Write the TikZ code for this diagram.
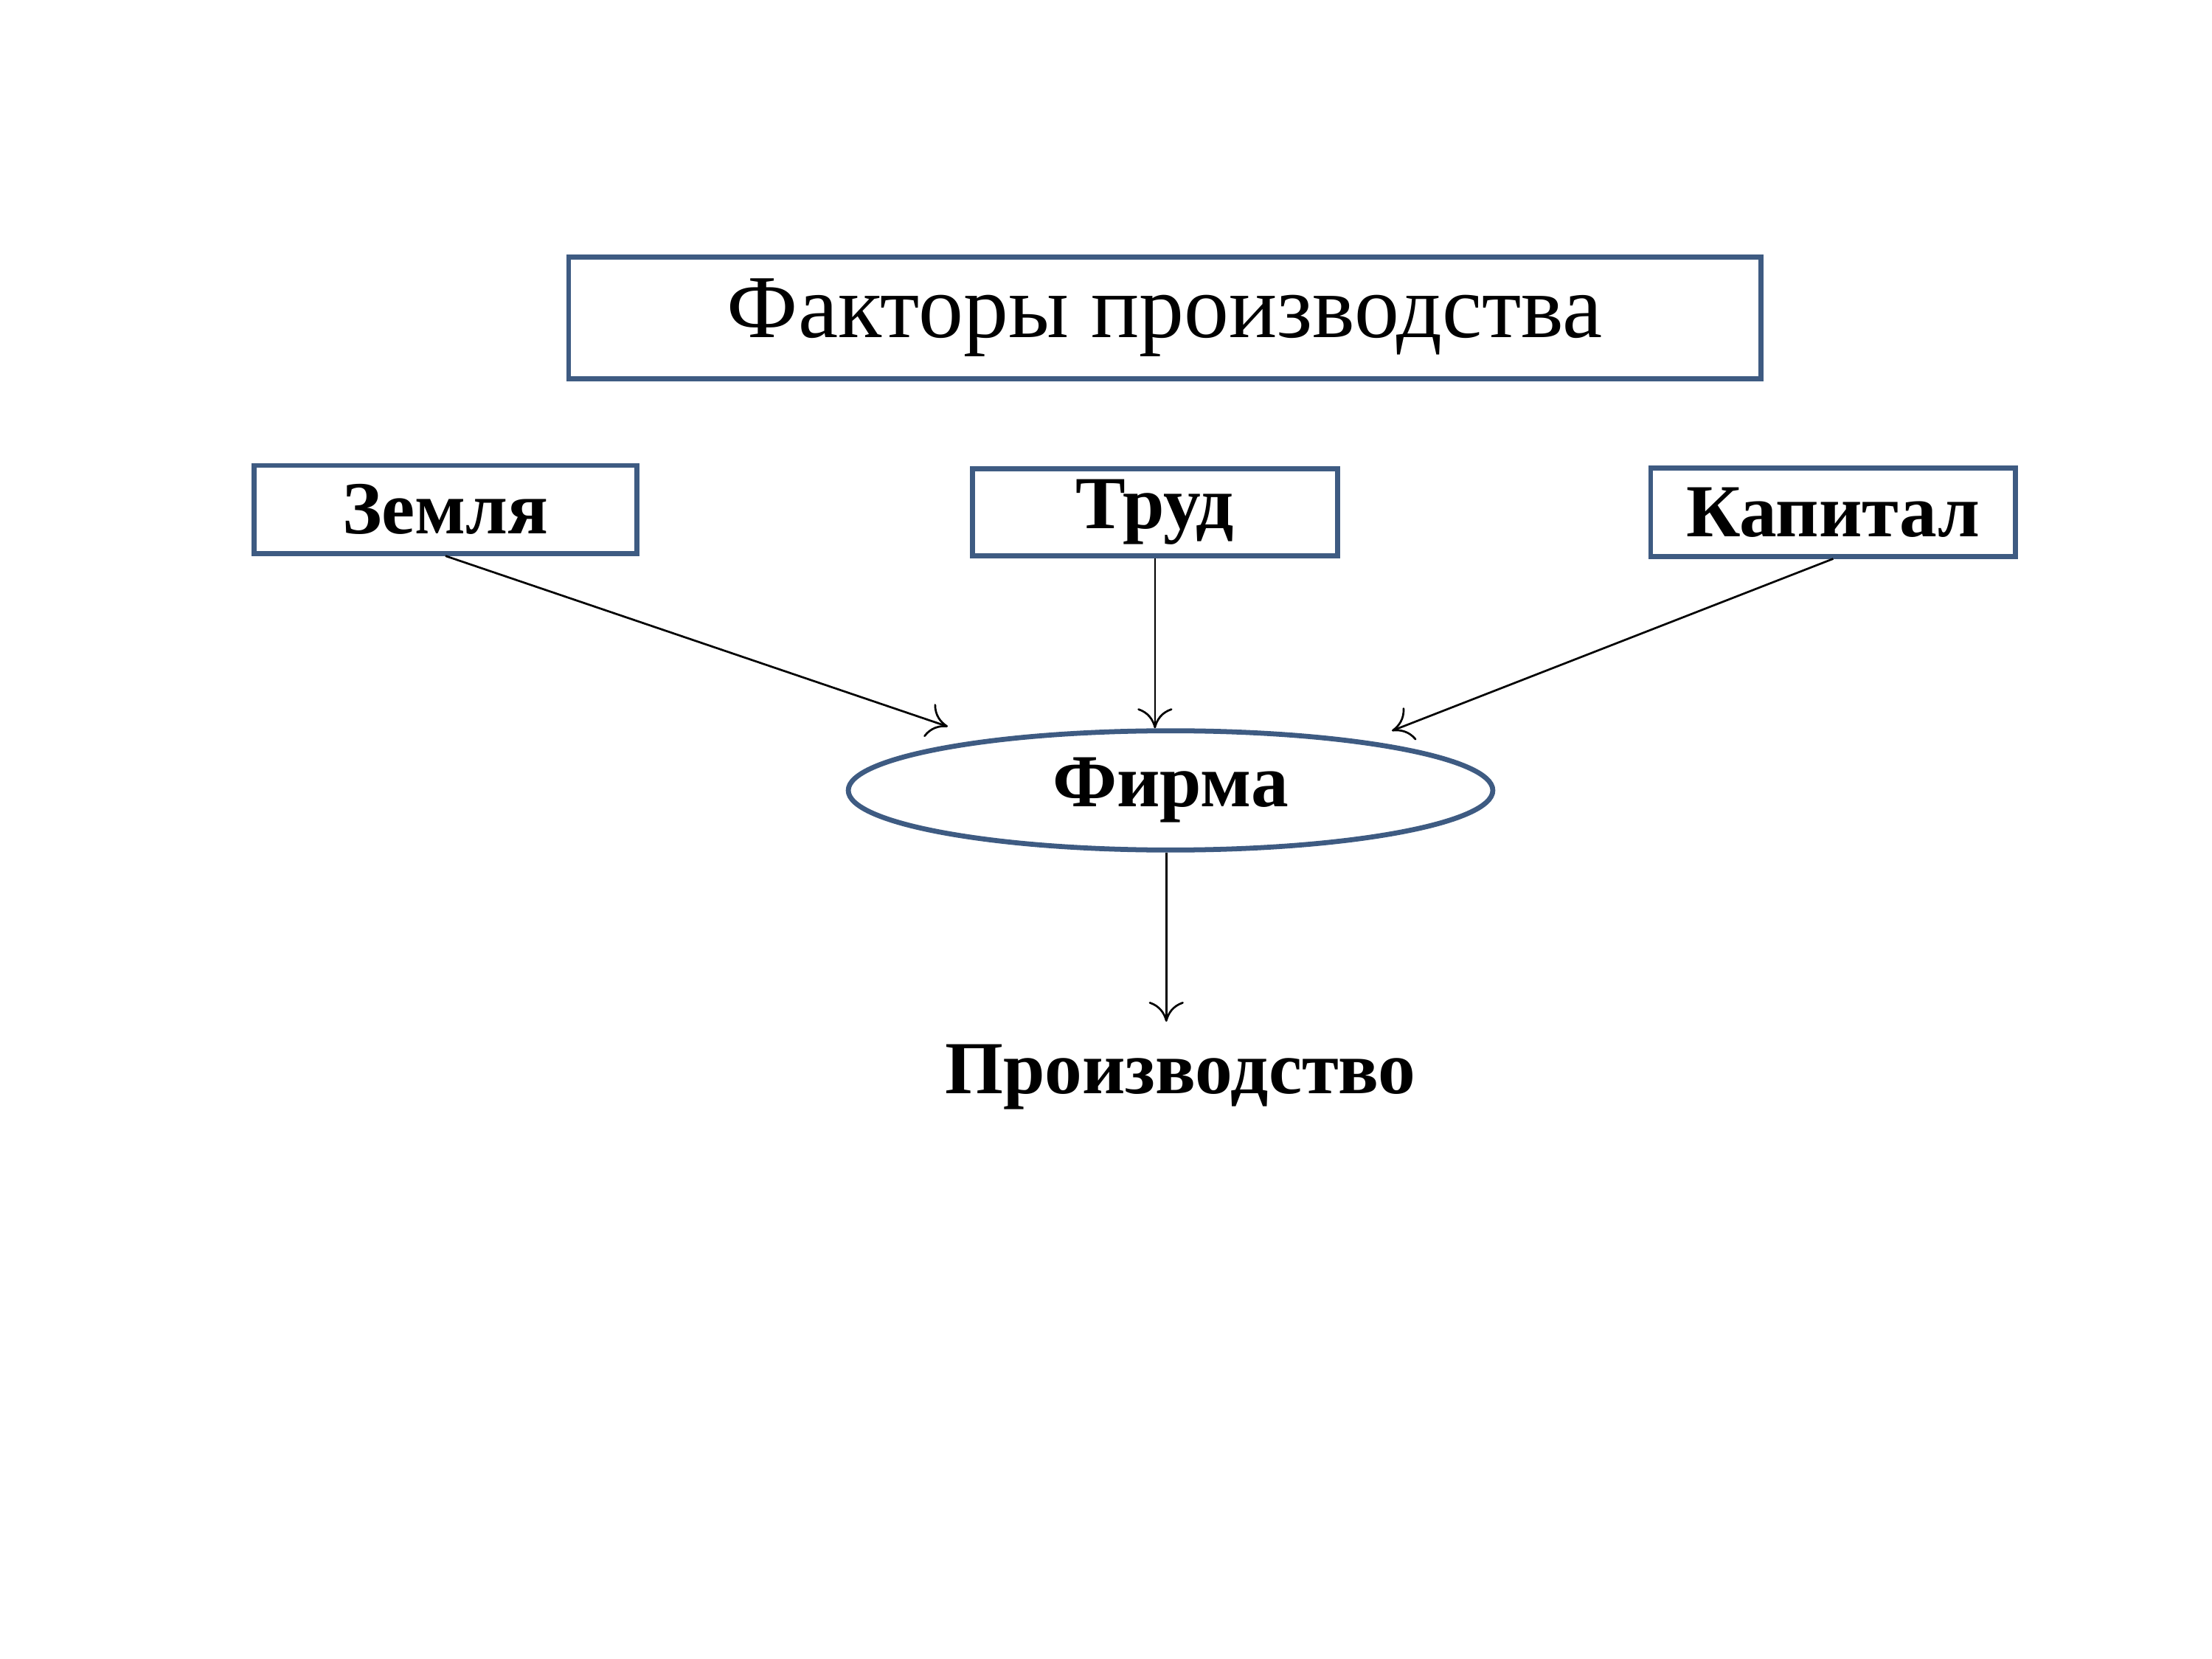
\documentclass[tikz,border=0pt]{standalone}
\usepackage{fontspec}
\setmainfont{Liberation Serif}
\usepackage{xcolor}
\usetikzlibrary{shapes.geometric, positioning, arrows.meta}
\definecolor{boxblue}{HTML}{3E5B82}

\begin{document}
\begin{tikzpicture}[x=0.01cm, y=-0.01cm,
    factor/.style={draw=boxblue, line width=1pt, inner sep=0pt, font=\fontsize{15}{18}\selectfont\bfseries},
    flow/.style={-{To[length=4pt,width=7pt]}, thin}]
  \useasboundingbox (0,0) rectangle (1559,1169);
  % title
  \node[draw=boxblue, line width=1pt, minimum width=8.4cm, minimum height=0.86cm,
        font=\fontsize{18}{22}\selectfont] (title) at (821,224) {Факторы производства};
  % factors
  \node[factor, minimum width=2.7cm, minimum height=0.62cm] (land) at (314,359) {Земля};
  \node[factor, minimum width=2.57cm, minimum height=0.61cm] (labour) at (814,361) {Труд};
  \node[factor, minimum width=2.57cm, minimum height=0.62cm] (capital) at (1292,361) {Капитал};
  % firm
  \node[ellipse, draw=boxblue, line width=1pt, minimum width=4.54cm, minimum height=0.84cm,
        inner sep=0pt, font=\fontsize{15}{18}\selectfont\bfseries] (firm) at (825,557) {Фирма};
  \node[font=\fontsize{15}{18}\selectfont\bfseries] (prod) at (832,759) {Производство};
  % arrow ends
  \coordinate (landin) at (668,512);
  \coordinate (capin) at (981,515);
  \coordinate (prodin) at (822,720);
  \draw[flow] (land.south) -- (landin);
  \draw[flow] (labour.south) -- (firm.north -| labour.south);
  \draw[flow] (capital.south) -- (capin);
  \draw[flow] (firm.south -| prodin) -- (prodin);
\end{tikzpicture}
\end{document}
